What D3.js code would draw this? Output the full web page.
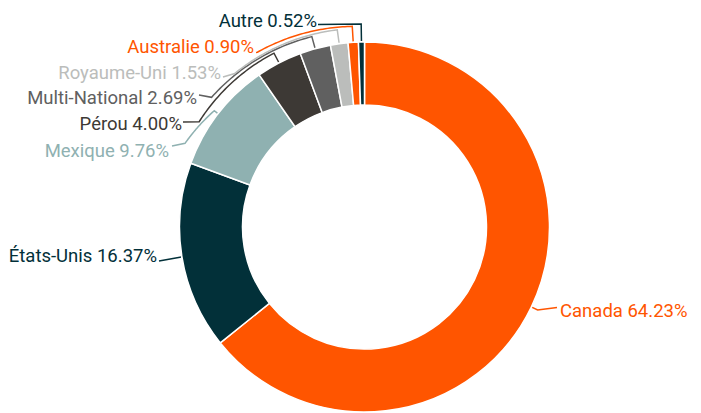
<!DOCTYPE html>
<html>
<head>
<meta charset="utf-8">
<script src="https://cdn.jsdelivr.net/npm/d3@7"></script>
<style>
  body { margin: 0; background: #fff; }
  text { font-family: Roboto, "Noto Sans", sans-serif; font-size: 18.5px; }
</style>
</head>
<body>
<svg id="chart"></svg>
<script>
// data
const categories = ["Canada", "États-Unis", "Mexique", "Pérou", "Multi-National", "Royaume-Uni", "Australie", "Autre"];
const shares = [64.23, 16.37, 9.76, 4.00, 2.69, 1.53, 0.90, 0.52];
const colors = ["#ff5500", "#023039", "#8fb1b1", "#3d3935", "#606060", "#bbbdbb", "#ff5500", "#023039"];

// label layout (text anchor point + leader route)
const labelAnchor = ["start", "end", "end", "end", "end", "end", "end", "end"];
const labelX = [560, 157, 169, 182, 197, 221, 254, 317];
const labelY = [317, 262, 157, 130, 104, 79, 53, 27];
const elbowR = [192, 187, 190, 196, 197.5, 199, 201, 203];
const spiralEndDeg = [null, null, 295, 302.5, 310.3, 319.8, 328.5, null];
const spiralEndR = [null, null, 198, 196, 200.5, 201, 205, null];
const joinX = [557, 159, 172, 183, 199, 223, 256, 318];
const joinY = [307.5, 261, 146, 122, 95, 77, 52.5, 24.5];

const w = 701, h = 413;
const cx = 364.5, cy = 227;
const outerR = 185, innerR = 122;

const svg = d3.select("#chart").attr("width", w).attr("height", h);
const g = svg.append("g").attr("transform", `translate(${cx},${cy})`);

const rows = categories.map((c, i) => ({ name: c, value: shares[i], i: i }));

const pie = d3.pie().value(d => d.value).sort(null);
const arc = d3.arc().innerRadius(innerR).outerRadius(outerR);
const arcs = pie(rows);

g.selectAll("path.slice")
  .data(arcs)
  .enter()
  .append("path")
  .attr("class", "slice")
  .attr("d", arc)
  .attr("fill", d => colors[d.data.i])
  .attr("stroke", "#fff")
  .attr("stroke-width", 1.5);

// polar -> cartesian, angle clockwise from 12 o'clock
function pt(r, a) { return [Math.sin(a) * r, -Math.cos(a) * r]; }

function leaderPoints(d) {
  const i = d.data.i;
  const mid = (d.startAngle + d.endAngle) / 2;
  const pts = [pt(outerR + 1, mid), pt(elbowR[i], mid)];
  if (spiralEndDeg[i] != null) {
    const e = spiralEndDeg[i] * Math.PI / 180;
    const n = 40;
    for (let k = 1; k <= n; k++) {
      const t = k / n;
      pts.push(pt(elbowR[i] + (spiralEndR[i] - elbowR[i]) * t, mid + (e - mid) * t));
    }
  }
  pts.push([joinX[i] - cx, joinY[i] - cy]);
  return pts;
}

const line = d3.line();

g.selectAll("path.leader")
  .data(arcs)
  .enter()
  .append("path")
  .attr("class", "leader")
  .attr("d", d => line(leaderPoints(d)))
  .attr("fill", "none")
  .attr("stroke", d => colors[d.data.i])
  .attr("stroke-width", 1.5);

svg.selectAll("text.lbl")
  .data(arcs)
  .enter()
  .append("text")
  .attr("class", "lbl")
  .attr("x", d => labelX[d.data.i])
  .attr("y", d => labelY[d.data.i])
  .attr("text-anchor", d => labelAnchor[d.data.i])
  .attr("fill", d => colors[d.data.i])
  .text(d => d.data.name + " " + d.data.value.toFixed(2) + "%");
</script>
</body>
</html>
